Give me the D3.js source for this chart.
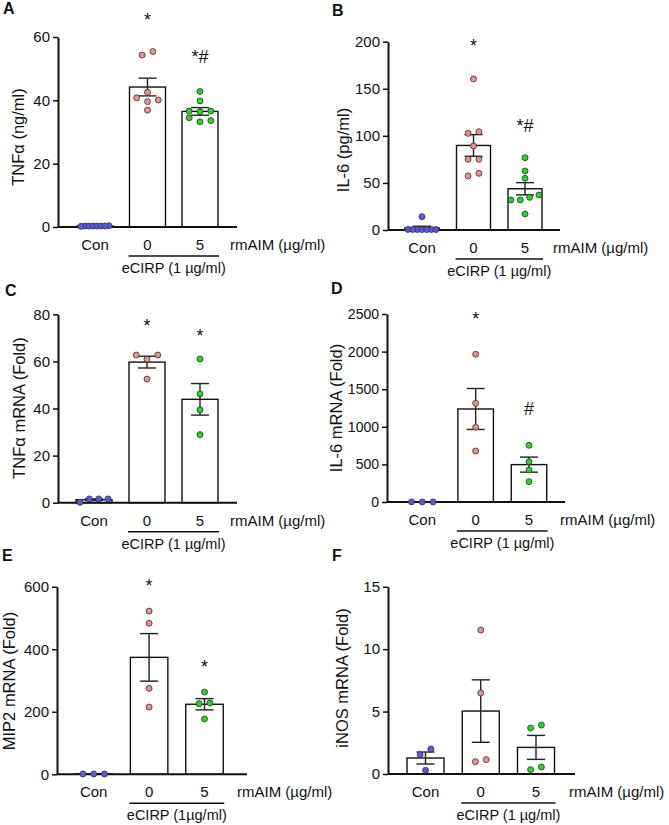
<!DOCTYPE html>
<html>
<head>
<meta charset="utf-8">
<script src="https://cdn.jsdelivr.net/npm/d3@7"></script>
<style>
  body { margin: 0; background: #fff; }
  svg text { font-family: "Liberation Sans", Arial, sans-serif; fill: #111; }
</style>
</head>
<body>
<div id="chart"></div>
<script>
const groups = ["Con", "0", "5"];

// A: TNFa protein (ng/ml)
const tnfaCon = [0.3, 0.3, 0.2, 0.3, 0.4, 0.3, 0.3, 0.3];
const tnfa0 = [54.3, 55.4, 42.5, 40.8, 39.6, 40.1, 36.9];
const tnfa5 = [42.8, 39.8, 36.6, 36.4, 36.6, 33.2, 34.5, 33.6];
const tnfaMean = [0.3, 44.2, 36.5];
const tnfaSem = [0.03, 2.8, 1.2];
const tnfaStars = ["", "*", "*#"];
const tnfaStarAt = [0, 63.5, 51.8];

// B: IL-6 protein (pg/ml)
const il6Con = [14.2, 0.5, 0.5, 0.4, 0.6, 0.5, 0.4, 0.5];
const il60 = [160.4, 104.4, 102.7, 89.2, 75.1, 75.1, 57.4, 60.2];
const il65 = [76.8, 62.7, 54.9, 34.7, 31.9, 37.2, 31.9, 17.0];
const il6Mean = [2.3, 89.8, 43.8];
const il6Sem = [1.7, 11.5, 6.5];
const il6Stars = ["", "*", "*#"];
const il6StarAt = [0, 189, 104];

// C: TNFa mRNA (fold)
const tnfmCon = [0.2, 1.6, 1.6, 1.6];
const tnfm0 = [62.7, 62.7, 60.9, 52.5];
const tnfm5 = [61.0, 46.2, 39.4, 28.9];
const tnfmMean = [1.25, 59.7, 43.9];
const tnfmSem = [0.35, 2.5, 6.7];
const tnfmStars = ["", "*", "*"];
const tnfmStarAt = [0, 72.5, 68.2];

// D: IL-6 mRNA (fold)
const il6mCon = [1, 1, 1];
const il6m0 = [1964, 1312, 993, 678];
const il6m5 = [754, 536, 426, 270];
const il6mMean = [1, 1237, 497];
const il6mSem = [0, 272, 100];
const il6mStars = ["", "*", "#"];
const il6mStarAt = [0, 2354, 1157];

// E: MIP2 mRNA (fold)
const mip2Con = [1, 1, 1];
const mip20 = [522, 483, 275, 215];
const mip25 = [263, 228, 226, 177];
const mip2Mean = [1, 374, 224];
const mip2Sem = [0, 76, 18];
const mip2Stars = ["", "*", "*"];
const mip2StarAt = [0, 583, 324];

// F: iNOS mRNA (fold)
const inosCon = [2.0, 1.55, 0.3];
const inos0 = [11.53, 6.48, 0.99, 1.15];
const inos5 = [3.68, 3.92, 0.35, 0.56];
const inosMean = [1.28, 5.04, 2.13];
const inosSem = [0.48, 2.5, 0.96];
const inosStars = ["", "", ""];
const inosStarAt = [0, 0, 0];

const dotColors = ["#5858e8", "#f28b8b", "#19dd19"];

const panels = [
  { id: "A", lx: 3, ly: 14, ax: 58, yTop: 37, y0: 227, xEnd: 237, c: [95, 147, 200], bw: 36,
    max: 60, ticks: [0, 20, 40, 60], tickFont: 15, title: "TNFα (ng/ml)", tx: 18, ty: 137, rmX: 230,
    ecirp: "eCIRP (1 µg/ml)", pts: [tnfaCon, tnfa0, tnfa5], mean: tnfaMean, sem: tnfaSem,
    stars: tnfaStars, starAt: tnfaStarAt },
  { id: "B", lx: 332, ly: 16, ax: 388, yTop: 41.7, y0: 230, xEnd: 560, c: [422, 474, 525], bw: 34,
    max: 200, ticks: [0, 50, 100, 150, 200], tickFont: 15, title: "IL-6 (pg/ml)", tx: 343, ty: 150, rmX: 553,
    ecirp: "eCIRP (1 µg/ml)", pts: [il6Con, il60, il65], mean: il6Mean, sem: il6Sem,
    stars: il6Stars, starAt: il6StarAt },
  { id: "C", lx: 5, ly: 296, ax: 58, yTop: 314.3, y0: 502.7, xEnd: 237, c: [94, 148, 200], bw: 36,
    max: 80, ticks: [0, 20, 40, 60, 80], tickFont: 15, title: "TNFα mRNA (Fold)", tx: 19, ty: 408, rmX: 230,
    ecirp: "eCIRP (1 µg/ml)", pts: [tnfmCon, tnfm0, tnfm5], mean: tnfmMean, sem: tnfmSem,
    stars: tnfmStars, starAt: tnfmStarAt },
  { id: "D", lx: 331, ly: 294, ax: 387, yTop: 314, y0: 502, xEnd: 565, c: [422.3, 475.5, 529], bw: 35.5,
    max: 2500, ticks: [0, 500, 1000, 1500, 2000, 2500], tickFont: 14, title: "IL-6 mRNA (Fold)", tx: 336, ty: 408, rmX: 560,
    ecirp: "eCIRP (1 µg/ml)", pts: [il6mCon, il6m0, il6m5], mean: il6mMean, sem: il6mSem,
    stars: il6mStars, starAt: il6mStarAt },
  { id: "E", lx: 2, ly: 561, ax: 57, yTop: 586.7, y0: 774.3, xEnd: 247, c: [93.7, 149, 204.5], bw: 37.5,
    max: 600, ticks: [0, 200, 400, 600], tickFont: 15, title: "MIP2 mRNA (Fold)", tx: 9, ty: 681, rmX: 237,
    ecirp: "eCIRP (1µg/ml)", pts: [mip2Con, mip20, mip25], mean: mip2Mean, sem: mip2Sem,
    stars: mip2Stars, starAt: mip2StarAt },
  { id: "F", lx: 332, ly: 561, ax: 388, yTop: 586.7, y0: 774, xEnd: 575, c: [425.5, 481.5, 536], bw: 37,
    max: 15, ticks: [0, 5, 10, 15], tickFont: 15, title: "iNOS mRNA (Fold)", tx: 342, ty: 678, rmX: 569,
    ecirp: "eCIRP (1 µg/ml)", pts: [inosCon, inos0, inos5], mean: inosMean, sem: inosSem,
    stars: inosStars, starAt: inosStarAt }
];

const svg = d3.select("#chart").append("svg")
  .attr("width", 669)
  .attr("height", 825);

// scatter offsets: points close in height share a row, rows spread sideways
function swarm(vals, y, step, thr, maxW) {
  const idx = vals.map((v, i) => i).sort((a, b) => vals[a] - vals[b]);
  const rows = [];
  let cur = null;
  idx.forEach(i => {
    if (cur && Math.abs(y(vals[i]) - y(vals[cur[0]])) < thr) cur.push(i);
    else { cur = [i]; rows.push(cur); }
  });
  const off = vals.map(() => 0);
  rows.forEach(r => {
    const n = r.length;
    const s = n > 1 ? Math.min(step, maxW / (n - 1)) : 0;
    if (n % 2 === 1) {
      r.forEach((i, k) => {
        const m = Math.ceil(k / 2);
        off[i] = (k === 0 ? 0 : (k % 2 === 1 ? m : -m)) * s;
      });
    } else {
      r.forEach((i, k) => off[i] = (k - (n - 1) / 2) * s);
    }
  });
  return off;
}

panels.forEach(p => {
  const g = svg.append("g");

  const y = d3.scaleLinear()
    .domain([0, p.max])
    .range([p.y0, p.yTop]);

  const step = (p.c[2] - p.c[0]) / 2;
  const x = d3.scaleBand()
    .domain(groups)
    .range([p.c[0] - p.bw / 2, p.c[2] + p.bw / 2])
    .paddingInner(1 - p.bw / step)
    .paddingOuter(0);
  const cx = d => x(d) + x.bandwidth() / 2;

  // bars
  g.selectAll("rect.bar")
    .data(groups)
    .join("rect")
    .attr("class", "bar")
    .attr("x", d => x(d))
    .attr("y", (d, i) => y(p.mean[i]))
    .attr("width", x.bandwidth())
    .attr("height", (d, i) => p.y0 - y(p.mean[i]))
    .attr("fill", "#fff")
    .attr("stroke", "#111")
    .attr("stroke-width", 1.4);

  // error bars (mean ± SEM)
  const eb = g.selectAll("g.err")
    .data(groups)
    .join("g")
    .attr("class", "err")
    .attr("stroke", "#222")
    .attr("stroke-width", 1.4);
  eb.append("line")
    .attr("x1", d => cx(d)).attr("x2", d => cx(d))
    .attr("y1", (d, i) => y(p.mean[i] - p.sem[i]))
    .attr("y2", (d, i) => y(p.mean[i] + p.sem[i]));
  [1, -1].forEach(sgn => {
    eb.append("line")
      .attr("x1", d => cx(d) - 9).attr("x2", d => cx(d) + 9)
      .attr("y1", (d, i) => y(p.mean[i] + sgn * p.sem[i]))
      .attr("y2", (d, i) => y(p.mean[i] + sgn * p.sem[i]));
  });

  // x axis line
  g.append("line")
    .attr("x1", p.ax).attr("x2", p.xEnd)
    .attr("y1", p.y0).attr("y2", p.y0)
    .attr("stroke", "#111")
    .attr("stroke-width", 2);

  // y axis
  const yAxis = g.append("g")
    .attr("transform", `translate(${p.ax},0)`)
    .call(d3.axisLeft(y).tickValues(p.ticks).tickFormat(d3.format("d"))
      .tickSize(5).tickSizeOuter(0).tickPadding(3));
  yAxis.select(".domain").attr("stroke", "#111").attr("stroke-width", 2);
  yAxis.selectAll(".tick line").attr("stroke", "#111").attr("stroke-width", 1.5);
  yAxis.selectAll(".tick text")
    .attr("font-size", p.tickFont)
    .attr("fill", "#111")
    .attr("font-family", '"Liberation Sans", Arial, sans-serif');

  // scatter points
  groups.forEach((grp, gi) => {
    const vals = p.pts[gi];
    const off = swarm(vals, y, 10.8, 6.5, 28);
    g.selectAll(null)
      .data(vals)
      .join("circle")
      .attr("cx", (d, i) => cx(grp) + off[i])
      .attr("cy", d => y(d))
      .attr("r", 3)
      .attr("fill", dotColors[gi])
      .attr("stroke", "#333")
      .attr("stroke-width", 0.8);
  });

  // significance marks
  g.selectAll("text.star")
    .data(groups)
    .join("text")
    .attr("class", "star")
    .attr("x", d => cx(d))
    .attr("y", (d, i) => y(p.starAt[i]))
    .attr("text-anchor", "middle")
    .attr("font-size", 18)
    .text((d, i) => p.stars[i]);

  // group labels
  g.selectAll("text.grp")
    .data(groups)
    .join("text")
    .attr("class", "grp")
    .attr("x", d => cx(d))
    .attr("y", p.y0 + 23)
    .attr("text-anchor", "middle")
    .attr("font-size", 15)
    .text(d => d);

  g.append("text")
    .attr("x", p.rmX)
    .attr("y", p.y0 + 23)
    .attr("font-size", 15)
    .text("rmAIM (µg/ml)");

  const u1 = x("0") - 1, u2 = x("5") + x.bandwidth() + 1;
  g.append("line")
    .attr("x1", u1).attr("x2", u2)
    .attr("y1", p.y0 + 29).attr("y2", p.y0 + 29)
    .attr("stroke", "#111")
    .attr("stroke-width", 1.6);
  g.append("text")
    .attr("x", (u1 + u2) / 2)
    .attr("y", p.y0 + 46)
    .attr("text-anchor", "middle")
    .attr("font-size", 14.5)
    .text(p.ecirp);

  // y title
  g.append("text")
    .attr("transform", `translate(${p.tx},${p.ty}) rotate(-90)`)
    .attr("dy", "0.35em")
    .attr("text-anchor", "middle")
    .attr("font-size", 16.5)
    .text(p.title);

  // panel letter
  g.append("text")
    .attr("x", p.lx)
    .attr("y", p.ly)
    .attr("font-size", 16)
    .attr("font-weight", "bold")
    .text(p.id);
});
</script>
</body>
</html>
